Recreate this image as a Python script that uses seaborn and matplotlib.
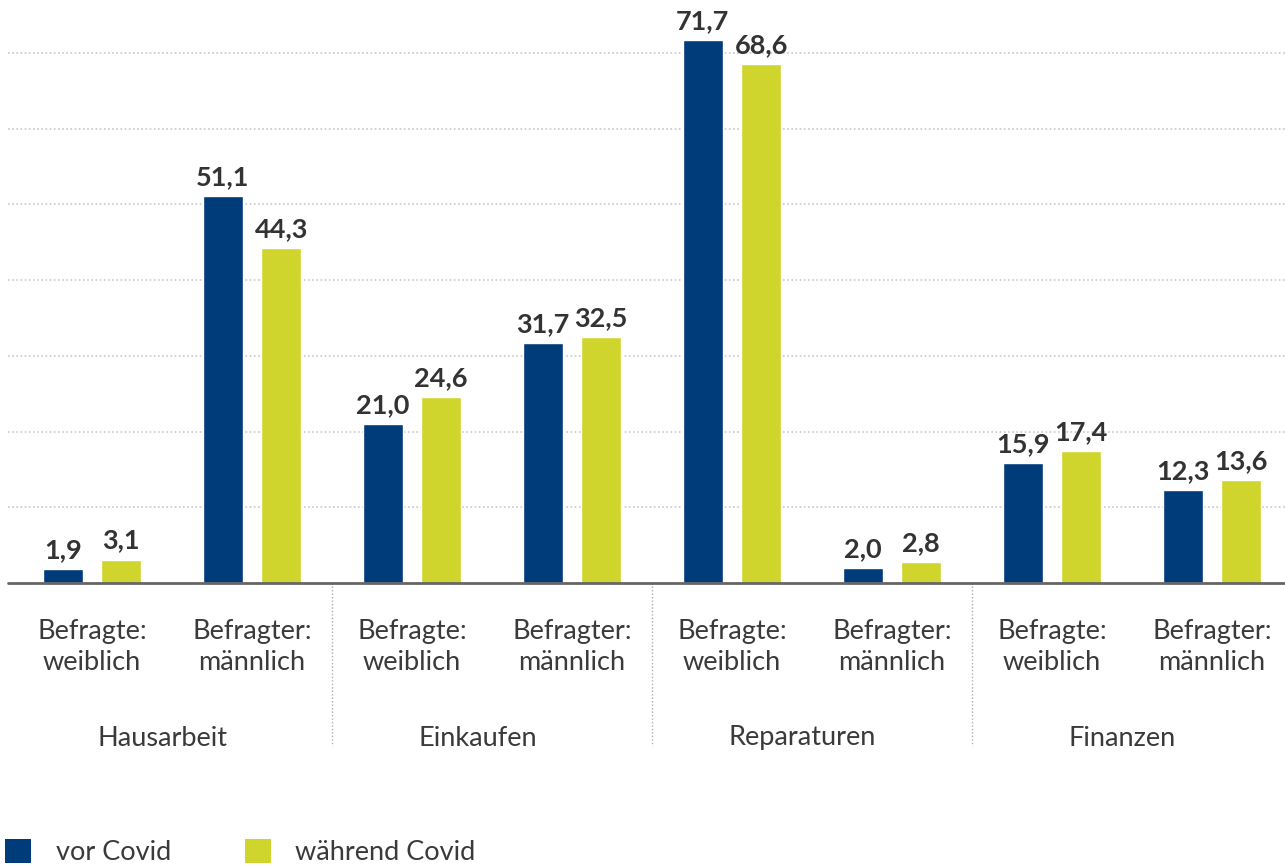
import matplotlib
matplotlib.use("Agg")
import matplotlib.pyplot as plt
import seaborn as sns
import pandas as pd
from matplotlib.patches import Patch

groups = ["Hausarbeit", "Einkaufen", "Reparaturen", "Finanzen"]
respondents = ["Befragte:\nweiblich", "Befragter:\nmännlich"]
series = ["vor Covid", "während Covid"]
vor_covid = [1.9, 51.1, 21.0, 31.7, 71.7, 2.0, 15.9, 12.3]
waehrend_covid = [3.1, 44.3, 24.6, 32.5, 68.6, 2.8, 17.4, 13.6]
colors = ["#003b7a", "#cfd52c"]

cats = [f"{g}|{r}" for g in groups for r in respondents]
rows = []
for c, v in zip(cats, vor_covid):
    rows.append({"cat": c, "series": series[0], "value": v})
for c, v in zip(cats, waehrend_covid):
    rows.append({"cat": c, "series": series[1], "value": v})
df = pd.DataFrame(rows)

sns.set_theme(style="white")
plt.rcParams["font.family"] = ["Lato", "DejaVu Sans"]

W, H = 1285, 866
fig = plt.figure(figsize=(W / 100, H / 100), dpi=100)
ax = fig.add_axes([8 / W, (H - 583) / H, (W - 8) / W, 583 / H])

sns.barplot(data=df, x="cat", y="value", hue="series", order=cats,
            hue_order=series, palette=colors, width=0.73, gap=0.31,
            saturation=1, ax=ax, legend=False, errorbar=None)

ax.set_xlim(-0.525, 7.456)
ax.set_ylim(0, 77.0)

for y in range(10, 80, 10):
    ax.axhline(y, color="#c8c8c8", lw=1.2, ls=(0, (1, 1.5)), zorder=0)
ax.axhline(0, color="#666666", lw=2, zorder=3, clip_on=False)

for s in ax.spines.values():
    s.set_visible(False)
ax.set_yticks([])
ax.set_ylabel("")
ax.set_xlabel("")
ax.set_xticks(range(len(cats)))
ax.set_xticklabels([c.split("|")[1] for c in cats], fontsize=19.5,
                   color="#3a3a3a", linespacing=1.3)
ax.tick_params(axis="x", length=0, pad=26)

for cont in ax.containers:
    labels = [f"{v:.1f}".replace(".", ",") for v in cont.datavalues]
    ax.bar_label(cont, labels=labels, padding=5, fontsize=19.5,
                 fontweight="bold", color="#333333")

# group separators and group labels
trans = ax.get_xaxis_transform()
for xb in [1.5, 3.5, 5.5]:
    ax.plot([xb, xb], [-0.005, -0.28], transform=trans, color="#b0b0b0",
            lw=1, ls=(0, (1, 1.5)), clip_on=False)
label_x = [0.44, 2.41, 4.44, 6.44]
for g, xg in zip(groups, label_x):
    ax.text(xg, -(738 - 583) / 583, g, transform=trans, ha="center",
            va="center", fontsize=19.5, color="#3a3a3a")

handles = [Patch(facecolor=c, edgecolor="none") for c in colors]
fig.legend(handles, series, loc="lower left",
           bbox_to_anchor=(-0.0105, -0.021), ncol=2, frameon=False,
           fontsize=19.5, handlelength=0.95, handleheight=0.95,
           handletextpad=0.9, columnspacing=2.75, labelcolor="#3a3a3a",
           borderaxespad=0.3)

fig.savefig("out.png", dpi=100)
